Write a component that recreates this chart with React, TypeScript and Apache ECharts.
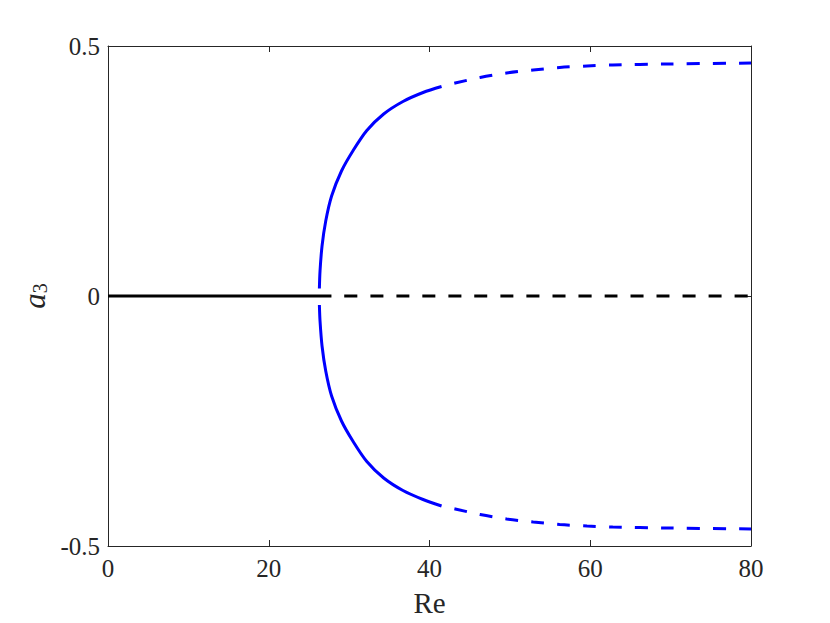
import React, { useEffect, useRef } from "react";
import * as echarts from "echarts";

// x axis ticks (Re)
const xTicks = [0, 20, 40, 60, 80];
// y axis ticks (a3)
const yTicks = [-0.5, 0, 0.5];

// trivial branch a3 = 0
const trivialStable: [number, number][] = [[0, 0], [27.8, 0]];
const trivialUnstable: [number, number][] = [[27.8, 0], [80, 0]];

// upper bifurcated branch, stable part (Re, a3)
const upperStable: [number, number][] = [
  [26.3, 0.015], [26.38, 0.05], [26.63, 0.1], [27.09, 0.15], [27.82, 0.2],
  [29.05, 0.25], [30.5, 0.291], [32.2, 0.331], [34.3, 0.364], [36.7, 0.389],
  [39.2, 0.407], [41.5, 0.419],
];
// upper bifurcated branch, unstable part
const upperUnstable: [number, number][] = [
  [41.5, 0.419], [43.2, 0.426], [46.3, 0.437], [49.6, 0.446], [52.9, 0.452],
  [56.2, 0.457], [59.6, 0.46], [62.8, 0.462], [69.5, 0.464], [80, 0.466],
];
// lower bifurcated branch, stable part
const lowerStable: [number, number][] = [
  [26.3, -0.018], [26.38, -0.05], [26.63, -0.1], [27.09, -0.15], [27.82, -0.2],
  [29.05, -0.25], [30.5, -0.291], [32.2, -0.331], [34.3, -0.364], [36.7, -0.389],
  [39.2, -0.407], [41.5, -0.42],
];
// lower bifurcated branch, unstable part
const lowerUnstable: [number, number][] = [
  [41.5, -0.42], [43.2, -0.426], [46.3, -0.437], [49.6, -0.446], [52.9, -0.452],
  [56.2, -0.457], [59.6, -0.46], [62.8, -0.462], [69.5, -0.464], [80, -0.466],
];

const FONT = "Liberation Serif";
const AXIS = "#262626";

export default function App() {
  const ref = useRef<HTMLDivElement>(null);
  useEffect(() => {
    if (!ref.current) return;
    const chart = echarts.init(ref.current, undefined, { renderer: "svg" });
    const baseX = {
      type: "value" as const,
      min: xTicks[0],
      max: xTicks[xTicks.length - 1],
      interval: xTicks[1] - xTicks[0],
      splitLine: { show: false },
      axisLine: { show: true, onZero: false, lineStyle: { color: AXIS, width: 1 } },
      axisTick: { show: true, inside: true, length: 6, lineStyle: { color: AXIS } },
    };
    const baseY = {
      type: "value" as const,
      min: yTicks[0],
      max: yTicks[yTicks.length - 1],
      interval: yTicks[1] - yTicks[0],
      splitLine: { show: false },
      axisLine: { show: true, onZero: false, lineStyle: { color: AXIS, width: 1 } },
      axisTick: { show: true, inside: true, length: 6, lineStyle: { color: AXIS } },
    };
    const lineSeries = (data: [number, number][], color: string, dashed: boolean) => ({
      type: "line" as const,
      data,
      showSymbol: false,
      symbol: "none",
      smooth: 0.3,
      xAxisIndex: 0,
      yAxisIndex: 0,
      lineStyle: {
        color,
        width: 3,
        type: dashed ? [13, 13] : "solid",
        dashOffset: dashed ? 13 : 0,
        cap: "butt" as const,
      },
      silent: true,
    });
    chart.setOption({
      animation: false,
      backgroundColor: "#ffffff",
      textStyle: { fontFamily: FONT },
      grid: { left: 108, right: 79, top: 46, bottom: 77, containLabel: false },
      xAxis: [
        {
          ...baseX,
          position: "bottom",
          name: "Re",
          nameLocation: "middle",
          nameGap: 42,
          nameTextStyle: { fontFamily: FONT, fontSize: 29, color: AXIS },
          axisLabel: { fontFamily: FONT, fontSize: 25, color: AXIS, margin: 10 },
        },
        {
          ...baseX,
          position: "top",
          axisLabel: { show: false },
        },
      ],
      yAxis: [
        {
          ...baseY,
          position: "left",
          name: "{a|a}{s|3}",
          nameLocation: "middle",
          nameRotate: 90,
          nameGap: 57,
          nameTextStyle: {
            fontFamily: FONT,
            rich: {
              a: { fontFamily: FONT, fontStyle: "italic", fontSize: 31, color: AXIS },
              s: { fontFamily: FONT, fontSize: 20, color: AXIS, verticalAlign: "bottom" },
            },
          },
          axisLabel: {
            fontFamily: FONT,
            fontSize: 25,
            color: AXIS,
            margin: 8,
            formatter: (v: number) => (v === 0 ? "0" : String(v)),
          },
        },
        {
          ...baseY,
          position: "right",
          axisLabel: { show: false },
        },
      ],
      series: [
        lineSeries(trivialStable, "#000000", false),
        lineSeries(trivialUnstable, "#000000", true),
        lineSeries(upperStable, "#0000ff", false),
        lineSeries(upperUnstable, "#0000ff", true),
        lineSeries(lowerStable, "#0000ff", false),
        lineSeries(lowerUnstable, "#0000ff", true),
      ],
    });
    return () => chart.dispose();
  }, []);
  return (
    <div
      ref={ref}
      style={{ position: "absolute", left: 0, top: 0, width: 830, height: 623, background: "#fff" }}
    />
  );
}
